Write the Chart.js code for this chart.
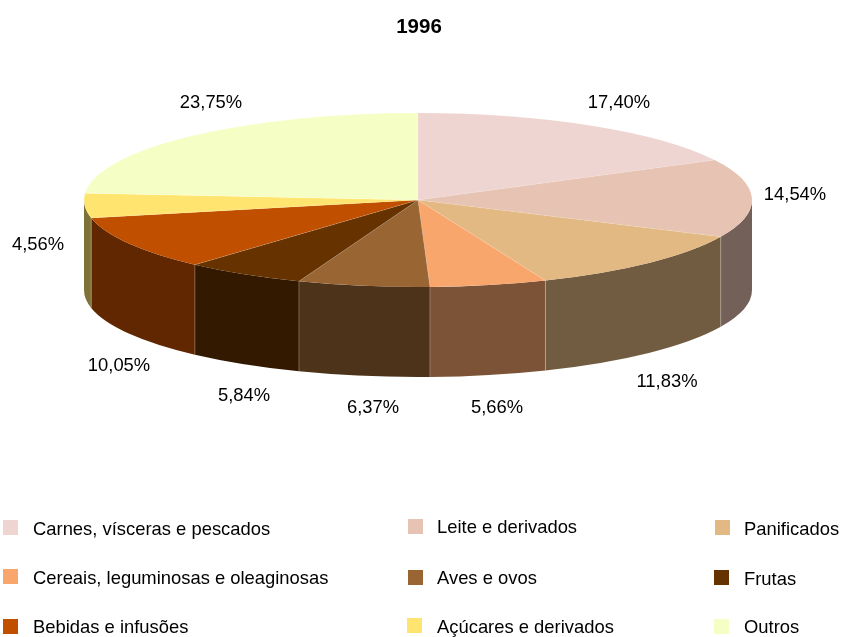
<!DOCTYPE html>
<html>
<head>
<meta charset="utf-8">
<script src="https://cdn.jsdelivr.net/npm/chart.js@4"></script>
<style>
html, body { margin: 0; padding: 0; background: #fff; }
canvas { display: block; }
</style>
</head>
<body>
<canvas id="myChart" width="842" height="637"></canvas>
<script>
const titleText = "1996";
const categories = ["Carnes, vísceras e pescados", "Leite e derivados", "Panificados",
    "Cereais, leguminosas e oleaginosas", "Aves e ovos", "Frutas",
    "Bebidas e infusões", "Açúcares e derivados", "Outros"];
const values = [17.40, 14.54, 11.83, 5.66, 6.37, 5.84, 10.05, 4.56, 23.75];
const colors = ["#EFD5D2", "#E6C3B2", "#E2B883", "#F9A66C", "#996633", "#663300", "#C04F00", "#FFE570", "#F5FFC5"];

// layout of the squashed pie
const pie = { cx: 418, cy: 200, rx: 334, ry: 87, depth: 90 };
const FONT = '"Liberation Sans", Arial, sans-serif';
// centre of each percentage label, in data order
const labelPos = [[619, 103], [795, 195], [667, 382], [497, 408], [373, 408], [244, 396], [119, 366], [38, 245], [211, 103]];
// swatch x, swatch y, text x, text y
const legendPos = [[3, 520, 33, 530], [408, 519, 437, 528], [715, 520, 744, 530],
    [3, 569, 33, 579], [408, 570, 437, 579], [714, 570, 744, 580],
    [3, 619, 33, 628], [407, 618, 437, 628], [714, 619, 744, 628]];

function darken(hex) {
    const n = parseInt(hex.slice(1), 16);
    const r = (n >> 16) >> 1, g = ((n >> 8) & 255) >> 1, b = (n & 255) >> 1;
    return `rgb(${r},${g},${b})`;
}

const pie3d = {
    id: "pie3d",
    // side walls go under the top face
    beforeDatasetDraw(chart) {
        const ctx = chart.ctx;
        const arcs = chart.getDatasetMeta(0).data;
        ctx.save();
        arcs.forEach((arc, i) => {
            // only the front half of the rim is visible
            const a = Math.max(arc.startAngle, 0);
            const b = Math.min(arc.endAngle, Math.PI);
            if (b <= a) return;
            ctx.beginPath();
            ctx.ellipse(pie.cx, pie.cy, pie.rx, pie.ry, 0, a, b);
            ctx.ellipse(pie.cx, pie.cy + pie.depth, pie.rx, pie.ry, 0, b, a, true);
            ctx.closePath();
            ctx.fillStyle = darken(colors[i]);
            ctx.fill();
            if (arc.startAngle > 0) {
                const x = pie.cx + pie.rx * Math.cos(a);
                const y = pie.cy + pie.ry * Math.sin(a);
                ctx.beginPath();
                ctx.moveTo(x, y);
                ctx.lineTo(x, y + pie.depth);
                ctx.strokeStyle = "rgba(255,255,255,0.25)";
                ctx.lineWidth = 1;
                ctx.stroke();
            }
        });
        ctx.restore();

        // squash the library's arcs onto the ellipse
        const first = arcs[0];
        const r = first.outerRadius;
        ctx.save();
        ctx.translate(pie.cx, pie.cy);
        ctx.scale(pie.rx / r, pie.ry / r);
        ctx.translate(-first.x, -first.y);
    },
    afterDatasetDraw(chart) {
        const ctx = chart.ctx;
        ctx.restore();
        ctx.save();
        chart.getDatasetMeta(0).data.forEach(arc => {
            ctx.beginPath();
            ctx.moveTo(pie.cx, pie.cy);
            ctx.lineTo(pie.cx + pie.rx * Math.cos(arc.startAngle), pie.cy + pie.ry * Math.sin(arc.startAngle));
            ctx.strokeStyle = "rgba(255,255,255,0.15)";
            ctx.lineWidth = 1;
            ctx.stroke();
        });
        ctx.restore();
    },
    afterDraw(chart) {
        const ctx = chart.ctx;
        ctx.save();
        ctx.font = "18.4px " + FONT;
        ctx.fillStyle = "#000";
        ctx.textBaseline = "middle";
        ctx.textAlign = "center";
        values.forEach((v, i) => {
            ctx.fillText(v.toFixed(2).replace(".", ",") + "%", labelPos[i][0], labelPos[i][1]);
        });
        ctx.textAlign = "left";
        categories.forEach((c, i) => {
            const p = legendPos[i];
            ctx.fillStyle = colors[i];
            ctx.fillRect(p[0], p[1], 15, 15);
            ctx.fillStyle = "#000";
            ctx.fillText(c, p[2], p[3]);
        });
        ctx.restore();
    }
};

new Chart("myChart", {
    type: "pie",
    data: {
        labels: categories,
        datasets: [{
            data: values,
            backgroundColor: colors,
            borderWidth: 0,
            clip: false
        }]
    },
    options: {
        responsive: false,
        animation: false,
        layout: { padding: { right: 4 } },
        plugins: {
            legend: { display: false },
            tooltip: { enabled: false },
            title: {
                display: true,
                text: titleText,
                color: "#000",
                font: { family: FONT, size: 20.5, weight: "bold" },
                padding: { top: 15, bottom: 10 }
            }
        }
    },
    plugins: [pie3d]
});
</script>
</body>
</html>
